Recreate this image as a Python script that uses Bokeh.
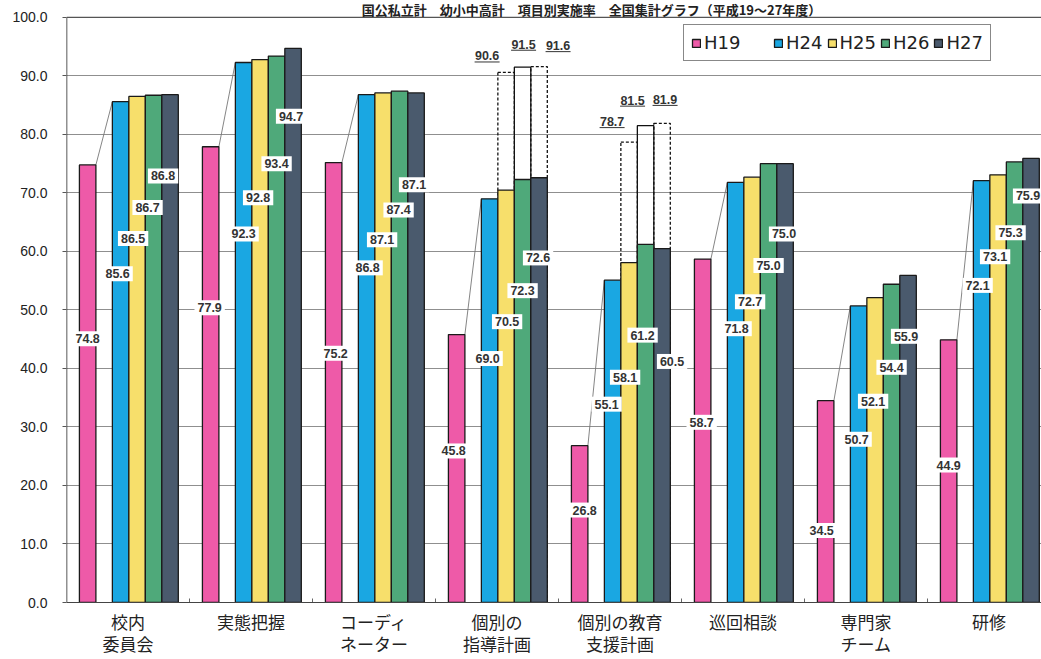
from bokeh.plotting import figure
from bokeh.models import (Range1d, FixedTicker, PrintfTickFormatter, Label,
                          Legend, LegendItem, ColumnDataSource, Span)
from bokeh.core.properties import value
from bokeh.embed import file_html
from bokeh.resources import INLINE

# ---------------------------------------------------------------- data
title_text = "国公私立計　幼小中高計　項目別実施率　全国集計グラフ（平成19～27年度）"

categories = ["校内\n委員会", "実態把握", "コーディ\nネーター", "個別の\n指導計画",
              "個別の教育\n支援計画", "巡回相談", "専門家\nチーム", "研修"]
series_names = ["H19", "H24", "H25", "H26", "H27"]
h19 = [74.8, 77.9, 75.2, 45.8, 26.8, 58.7, 34.5, 44.9]
h24 = [85.6, 92.3, 86.8, 69.0, 55.1, 71.8, 50.7, 72.1]
h25 = [86.5, 92.8, 87.1, 70.5, 58.1, 72.7, 52.1, 73.1]
h26 = [86.7, 93.4, 87.4, 72.3, 61.2, 75.0, 54.4, 75.3]
h27 = [86.8, 94.7, 87.1, 72.6, 60.5, 75.0, 55.9, 75.9]

# outlined totals for the two planning items (H25, H26, H27)
outline_items = ["個別の\n指導計画", "個別の教育\n支援計画"]
outline_names = ["H25", "H26", "H27"]
outline_h25 = [90.6, 78.7]
outline_h26 = [91.5, 81.5]
outline_h27 = [91.6, 81.9]

y_ticks = [0, 10, 20, 30, 40, 50, 60, 70, 80, 90, 100]

# ---------------------------------------------------------------- layout / style
W, H = 1041, 659
LEFT, TOP, BOTTOM = 66, 17, 55
GROUP_PX = 123.0
FRAME_W = W - LEFT
X_END = FRAME_W / GROUP_PX
XS = GROUP_PX                       # px per x unit
YS = (H - TOP - BOTTOM) / 100.0     # px per y unit
Y_TOP = 100 + TOP / YS              # head room above the 100 line for the title

colors = ["#EE5AA8", "#1AA7E2", "#F7DF6B", "#4FA97A", "#4A5A6D"]
slot_offsets = [-0.328, -0.060, 0.074, 0.208, 0.342]
BAR_W = 0.134

# value-label heights (in axis units) and small horizontal nudges (px)
label_y = [
    [45.1, 50.4, 42.6, 25.9, 15.8, 30.8, 12.3, 23.5],
    [56.2, 63.0, 57.2, 41.7, 33.9, 46.8, 27.9, 54.2],
    [62.2, 69.2, 62.0, 48.0, 38.5, 51.4, 34.4, 59.1],
    [67.5, 75.0, 67.1, 53.3, 45.7, 57.6, 40.2, 63.2],
    [72.9, 83.1, 71.4, 58.9, 41.2, 63.0, 45.5, 69.5],
]
label_dx = [
    [0, -1, 2, -3, 5, -1, -4, 0],
    [-3, 0, 1, -2, -6, 1, -2, -4],
    [-4, -2, -1, 1, -4, -2, -2, -3],
    [-6, 0, -1, 0, -3, 0, 0, -4],
    [-7, -2, -2, -1, 10, -1, -2, -3],
]
# placement of the underlined outline totals (px, relative to box top centre)
outline_dx = [[-19, -17], [1, -13], [19, 3]]
outline_dy = [[-16.5, -20.5], [-23, -25.6], [-21, -24]]

series = [h19, h24, h25, h26, h27]
outline_vals = [outline_h25, outline_h26, outline_h27]

p = figure(width=W, height=H, title=None,
           x_range=Range1d(0, X_END), y_range=Range1d(0, Y_TOP),
           output_backend="svg", toolbar_location=None,
           min_border_left=LEFT, min_border_right=0,
           min_border_top=0, min_border_bottom=BOTTOM)
p.background_fill_color = "white"
p.border_fill_color = "white"
p.outline_line_color = None

# grid
p.xgrid.grid_line_color = None
p.ygrid.ticker = FixedTicker(ticks=y_ticks)
p.ygrid.grid_line_color = "#8f8f8f"
p.ygrid.grid_line_width = 1
p.add_layout(Span(location=100, dimension="width", line_color="#555555", line_width=1.2))

# y axis (its line is drawn only up to 100)
p.yaxis.ticker = FixedTicker(ticks=y_ticks)
p.yaxis.formatter = PrintfTickFormatter(format="%.1f")
p.yaxis.major_label_text_font = "Liberation Sans"
p.yaxis.major_label_text_font_size = "14px"
p.yaxis.major_label_text_color = "#222222"
p.yaxis.major_tick_out = 4
p.yaxis.major_tick_in = 0
p.yaxis.minor_tick_line_color = None
p.yaxis.axis_line_color = None
p.yaxis.major_tick_line_color = "#555555"
p.yaxis.major_label_standoff = 15
p.segment(x0=[0], x1=[0], y0=[0], y1=[100], line_color="#222222", line_width=1.5)

# x axis with category names under each group
centers = [i + 0.5 for i in range(len(categories))]
p.xaxis.ticker = FixedTicker(ticks=centers)
p.xaxis.major_label_overrides = {c: name for c, name in zip(centers, categories)}
p.xaxis.major_label_text_font = "Noto Sans CJK JP"
p.xaxis.major_label_text_font_size = "17px"
p.xaxis.major_label_text_color = "#222222"
p.xaxis.major_label_text_line_height = 0.9
p.xaxis.major_label_standoff = 6
p.xaxis.major_tick_out = 0
p.xaxis.major_tick_in = 0
p.xaxis.minor_tick_line_color = None
p.xaxis.axis_line_color = "#444444"

# small separators between groups
bounds = list(range(1, len(categories)))
p.segment(x0=bounds, x1=bounds, y0=[0] * len(bounds), y1=[4 / YS] * len(bounds),
          line_color="#666666", line_width=1)

# outlined totals (drawn first so the solid bars sit on top)
for k, name in enumerate(outline_names):
    sidx = series_names.index(name)
    xs = [categories.index(it) + 0.5 + slot_offsets[sidx] for it in outline_items]
    p.quad(left=[x - BAR_W / 2 for x in xs], right=[x + BAR_W / 2 for x in xs],
           bottom=[0] * len(xs), top=outline_vals[k], fill_color=None,
           line_color="#111111", line_width=1.3,
           line_dash="solid" if name == "H26" else "3 2")

# connector from each H19 bar to the H24 bar
p.segment(x0=[c + slot_offsets[0] + BAR_W / 2 for c in centers], y0=h19,
          x1=[c + slot_offsets[1] - BAR_W / 2 for c in centers], y1=h24,
          line_color="#777777", line_width=0.9)

# bars
renderers = []
for k, (name, vals) in enumerate(zip(series_names, series)):
    r = p.vbar(x=[c + slot_offsets[k] for c in centers], width=BAR_W, top=vals, bottom=0,
               fill_color=colors[k], line_color="#1a1a1a", line_width=1.3)
    renderers.append(r)

# value labels in white boxes
lx, ly, lt, ldx = [], [], [], []
for k, vals in enumerate(series):
    for i, v in enumerate(vals):
        lx.append(centers[i] + slot_offsets[k])
        ly.append(label_y[k][i])
        lt.append(f"{v:.1f}")
        ldx.append(label_dx[k][i])
src = ColumnDataSource(dict(x=lx, y=ly, t=lt, dx=ldx))
p.text(x="x", y="y", text="t", x_offset="dx", source=src,
       text_align="center", text_baseline="middle",
       text_font=value("Liberation Sans"), text_font_style="bold",
       text_font_size="12.5px", text_color="#333333",
       background_fill_color="white", padding=3)

# underlined totals above the outlined boxes
ox, oy, ot, odx, ody = [], [], [], [], []
ux0, ux1, uy = [], [], []
for k, name in enumerate(outline_names):
    sidx = series_names.index(name)
    for j, it in enumerate(outline_items):
        xc = categories.index(it) + 0.5 + slot_offsets[sidx]
        v = outline_vals[k][j]
        ox.append(xc); oy.append(v); ot.append(f"{v:.1f}")
        odx.append(outline_dx[k][j]); ody.append(outline_dy[k][j])
        ucx = xc + outline_dx[k][j] / XS
        ucy = v - (outline_dy[k][j] + 6) / YS
        ux0.append(ucx - 12.5 / XS); ux1.append(ucx + 12.5 / XS); uy.append(ucy)
osrc = ColumnDataSource(dict(x=ox, y=oy, t=ot, dx=odx, dy=ody))
p.text(x="x", y="y", text="t", x_offset="dx", y_offset="dy", source=osrc,
       text_align="center", text_baseline="middle",
       text_font=value("Liberation Sans"), text_font_style="bold",
       text_font_size="12.5px", text_color="#333333")
p.segment(x0=ux0, x1=ux1, y0=uy, y1=uy, line_color="#333333", line_width=1)

# legend
legend_labels = [n + "     " if n == "H19" else n for n in series_names]
legend = Legend(items=[LegendItem(label=lab, renderers=[r])
                       for lab, r in zip(legend_labels, renderers)],
                orientation="horizontal", location=(617, 541), margin=0,
                padding=7, spacing=4, label_standoff=3,
                glyph_width=10, glyph_height=10,
                label_text_font="DejaVu Sans", label_text_font_size="18px",
                label_text_color="#222222",
                border_line_color="#111111", border_line_width=1.2,
                background_fill_color="white", background_fill_alpha=1)
p.add_layout(legend)

# chart title in the band above the 100 line
p.add_layout(Label(x=(591 - LEFT) / XS, y=100 + (TOP - 9) / YS, text=title_text,
                   text_align="center", text_baseline="middle",
                   text_font="Noto Sans CJK JP", text_font_style="bold",
                   text_font_size="13px", text_color="#222222"))

open("out.html", "w").write(file_html(p, INLINE))
